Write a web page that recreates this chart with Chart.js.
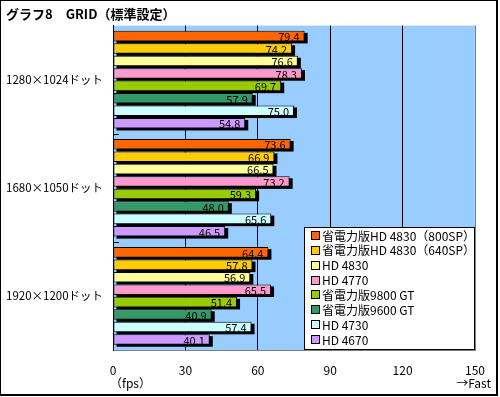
<!DOCTYPE html>
<html>
<head>
<meta charset="utf-8">
<script src="https://cdn.jsdelivr.net/npm/chart.js@4.4.0/dist/chart.umd.min.js"></script>
<style>
  body { margin: 0; background: #fff; }
  canvas { display: block; }
</style>
</head>
<body>
<canvas id="grid" width="500" height="397"></canvas>
<script>
const FONT = "'Noto Sans CJK JP', 'Noto Sans', sans-serif";

// resolutions
const categories = ['1280×1024ドット', '1680×1050ドット', '1920×1200ドット'];
const xTicks = [0, 30, 60, 90, 120, 150];

// series (fps)
const seriesNames = [
    '省電力版HD 4830（800SP）',
    '省電力版HD 4830（640SP）',
    'HD 4830',
    'HD 4770',
    '省電力版9800 GT',
    '省電力版9600 GT',
    'HD 4730',
    'HD 4670'
];
const seriesColors = ['#ff6600', '#ffcc00', '#ffff99', '#ff99cc', '#99cc00', '#339966', '#ccffff', '#cc99ff'];
const eco4830_800 = [79.4, 73.6, 64.4];
const eco4830_640 = [74.2, 66.9, 57.8];
const hd4830 = [76.6, 66.5, 56.9];
const hd4770 = [78.3, 73.2, 65.5];
const eco9800gt = [69.7, 59.3, 51.4];
const eco9600gt = [57.9, 48.0, 40.9];
const hd4730 = [75.0, 65.6, 57.4];
const hd4670 = [54.8, 46.5, 40.1];
const seriesValues = [eco4830_800, eco4830_640, hd4830, hd4770, eco9800gt, eco9600gt, hd4730, hd4670];

// plot background, frame, extra texts
const backdrop = {
    id: 'backdrop',
    beforeDraw(chart) {
        const { ctx, chartArea: a } = chart;
        ctx.save();
        ctx.fillStyle = '#99ccff';
        ctx.fillRect(a.left, a.top, a.right - a.left, a.bottom - a.top);
        ctx.restore();
    },
    afterDraw(chart) {
        const { ctx, chartArea: a } = chart;
        ctx.save();
        ctx.fillStyle = '#808080';
        ctx.fillRect(a.right, a.top, 1, a.bottom - a.top + 1);
        // outer frame
        ctx.fillStyle = '#000';
        ctx.fillRect(0, 0, 498, 1);
        ctx.fillRect(0, 0, 1, 396);
        ctx.fillRect(496, 0, 2, 396);
        ctx.fillRect(0, 394, 498, 2);
        // texts under the axis
        ctx.font = '12px ' + FONT;
        ctx.textBaseline = 'middle';
        ctx.textAlign = 'left';
        ctx.fillText('（fps）', 110, 383);
        ctx.textAlign = 'right';
        ctx.fillText('→Fast', 491, 383);
        ctx.restore();
    }
};

// bar shadows
const shadows = {
    id: 'shadows',
    beforeDatasetsDraw(chart) {
        const ctx = chart.ctx;
        ctx.save();
        ctx.fillStyle = '#000';
        chart.data.datasets.forEach((ds, i) => {
            chart.getDatasetMeta(i).data.forEach(bar => {
                const p = bar.getProps(['x', 'y', 'base', 'height'], true);
                ctx.fillRect(p.base + 3, p.y - p.height / 2 + 2, p.x - p.base, p.height);
            });
        });
        ctx.restore();
    }
};

// value labels, group ticks
const valueLabels = {
    id: 'valueLabels',
    afterDatasetsDraw(chart) {
        const { ctx, chartArea: a, scales } = chart;
        ctx.save();
        ctx.font = '11px ' + FONT;
        ctx.fillStyle = '#000';
        ctx.textAlign = 'right';
        ctx.textBaseline = 'middle';
        chart.data.datasets.forEach((ds, i) => {
            chart.getDatasetMeta(i).data.forEach((bar, j) => {
                ctx.fillText(ds.data[j].toFixed(1), bar.x - 5, bar.y + 1);
            });
        });
        for (let k = 1; k < categories.length; k++) {
            const y = Math.round((scales.y.getPixelForValue(k - 1) + scales.y.getPixelForValue(k)) / 2) + 0.5;
            ctx.beginPath();
            ctx.moveTo(a.left, y);
            ctx.lineTo(a.left + 6, y);
            ctx.strokeStyle = '#000';
            ctx.stroke();
        }
        ctx.restore();
    }
};

// legend box inside plot, lower right
const legendBox = {
    id: 'legendBox',
    afterDraw(chart) {
        const { ctx, chartArea: a } = chart;
        const w = 171, h = 123;
        const left = a.right - w, top = a.bottom - h;
        ctx.save();
        ctx.fillStyle = '#fff';
        ctx.fillRect(left, top, w, h);
        ctx.strokeStyle = '#000';
        ctx.lineWidth = 1;
        ctx.strokeRect(left + 0.5, top + 0.5, w - 1, h - 1);
        ctx.font = '12px ' + FONT;
        ctx.textBaseline = 'middle';
        ctx.textAlign = 'left';
        chart.data.datasets.forEach((ds, i) => {
            const cy = top + 8 + i * 14.85;
            ctx.fillStyle = ds.backgroundColor;
            ctx.fillRect(left + 7, Math.round(cy - 4), 8, 8);
            ctx.strokeRect(left + 7.5, Math.round(cy - 4) + 0.5, 8, 8);
            ctx.fillStyle = '#000';
            ctx.fillText(ds.label, left + 18, cy + 1);
        });
        ctx.restore();
    }
};

new Chart(document.getElementById('grid'), {
    type: 'bar',
    data: {
        labels: categories,
        datasets: seriesNames.map((name, i) => ({
            label: name,
            data: seriesValues[i],
            backgroundColor: seriesColors[i],
            borderColor: '#000',
            borderWidth: 1,
            borderSkipped: false,
            categoryPercentage: 0.92,
            barPercentage: 0.85
        }))
    },
    options: {
        indexAxis: 'y',
        responsive: false,
        animation: false,
        layout: { padding: { left: 6, right: 25, top: 1, bottom: 0 } },
        plugins: {
            legend: { display: false },
            tooltip: { enabled: false },
            title: {
                display: true,
                text: 'グラフ8　GRID（標準設定）',
                align: 'start',
                color: '#000',
                font: { family: FONT, size: 13, weight: 'bold' },
                padding: { top: 5, bottom: 4 }
            }
        },
        scales: {
            x: {
                min: 0,
                max: 150,
                afterBuildTicks(scale) { scale.ticks = xTicks.map(v => ({ value: v })); },
                afterFit(scale) { scale.height = 47; },
                ticks: { color: '#000', padding: 13, font: { family: FONT, size: 12 } },
                grid: {
                    drawTicks: false,
                    color: ctx => ctx.tick && ctx.tick.value === 150 ? '#808080' : '#000'
                },
                border: { color: '#808080' }
            },
            y: {
                afterFit(scale) { scale.width = 107; },
                ticks: { color: '#000', crossAlign: 'far', font: { family: FONT, size: 11.5 } },
                grid: { display: false },
                border: { color: '#000' }
            }
        }
    },
    plugins: [backdrop, shadows, valueLabels, legendBox]
});
</script>
</body>
</html>
